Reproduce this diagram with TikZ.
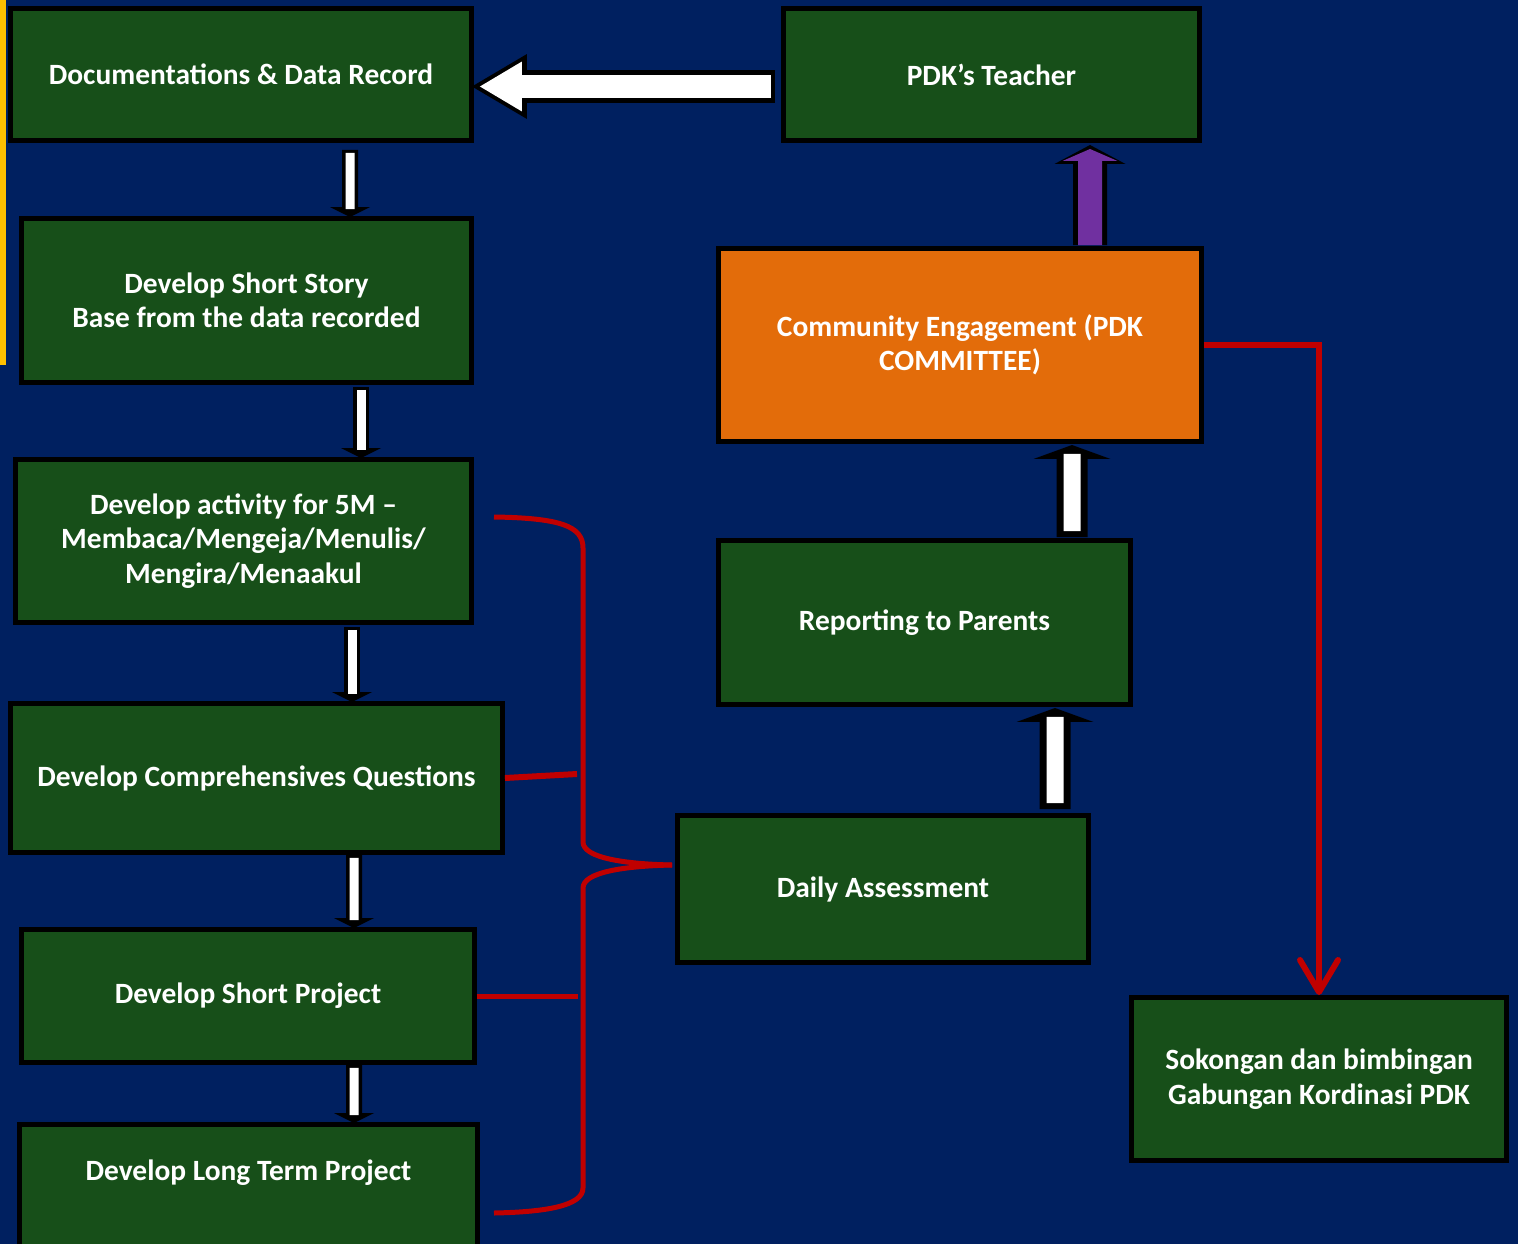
\documentclass[tikz,border=0pt]{standalone}
\usepackage{fontspec}
\setmainfont{Carlito}
\usetikzlibrary{arrows.meta, calc, positioning}

\definecolor{navy}{RGB}{0,32,96}
\definecolor{boxgreen}{RGB}{23,79,25}
\definecolor{engorange}{RGB}{227,108,10}
\definecolor{arrowpurple}{RGB}{112,48,160}
\definecolor{linkred}{RGB}{192,0,0}
\definecolor{bargold}{RGB}{255,192,0}

\tikzstyle{block} = [rectangle, draw=black, line width=1mm, fill=boxgreen, text=white, align=center, font=\bfseries\fontsize{16.75}{19.6}\selectfont]
\tikzstyle{downarrow} = [line width=0.32cm, draw=black, -{Triangle[length=0.2cm, width=0.8cm, line width=0pt]}, postaction={draw=white, line width=0.18cm, -, shorten <=0.06cm, shorten >=0.16cm}]
\tikzstyle{uparrow} = [line width=0.62cm, draw=black, -{Triangle[length=0.28cm, width=1.54cm, line width=0pt]}, postaction={draw=white, line width=0.34cm, -, shorten <=0.12cm, shorten >=0.18cm}]
\tikzstyle{purplearrow} = [line width=0.68cm, draw=black, -{Triangle[length=0.38cm, width=1.42cm, line width=0pt]}, postaction={draw=arrowpurple, line width=0.48cm, -{Triangle[length=0.24cm, width=1.1cm, line width=0pt]}, shorten >=0.08cm}]
\tikzstyle{bigarrow} = [line width=0.66cm, draw=black, -{Triangle[length=1.1cm, width=1.3cm, line width=0pt]}, postaction={draw=white, line width=0.48cm, -{Triangle[length=0.84cm, width=1.0cm, line width=0pt]}, shorten >=0.16cm, shorten <=0.08cm}]
\tikzstyle{brace} = [draw=linkred, line width=0.1cm]
\tikzstyle{redarrow} = [draw=linkred, line width=0.12cm, -{Straight Barb[length=0.64cm, width=0.76cm, round]}]

\begin{document}
\begin{tikzpicture}[x=0.02cm, y=-0.02cm]
\useasboundingbox (0,0) rectangle (1518,1244);
\fill[navy] (0,0) rectangle (1518,1244);
\fill[bargold] (0,0) rectangle (6,365);

\node (docs) [block, minimum width=9.22cm, minimum height=2.64cm] at (241,74.5) {Documentations \& Data Record};
\node (story) [block, minimum width=9.0cm, minimum height=3.28cm] at (246.5,300.5) {Develop Short Story\\Base from the data recorded};
\node (act) [block, minimum width=9.12cm, minimum height=3.26cm] at (243.5,541) {Develop activity for 5M –\\Membaca/Mengeja/Menulis/\\Mengira/Menaakul};
\node (comp) [block, minimum width=9.84cm, minimum height=2.98cm] at (256.5,778) {Develop Comprehensives Questions};
\node (sproj) [block, minimum width=9.06cm, minimum height=2.66cm] at (248,996) {Develop Short Project};
\node (lproj) [block, minimum width=9.16cm, minimum height=0pt, inner ysep=0pt, text height=1.12cm, text depth=2cm, anchor=north] at (248.5,1122) {Develop Long Term Project};

\node (pdk) [block, minimum width=8.32cm, minimum height=2.64cm] at (991.5,74.5) {PDK’s Teacher};
\node (comm) [block, fill=engorange, minimum width=9.66cm, minimum height=3.86cm] at (960,345) {Community Engagement (PDK\\COMMITTEE)};
\node (rep) [block, minimum width=8.24cm, minimum height=3.28cm] at (924.5,622.5) {Reporting to Parents};
\node (daily) [block, minimum width=8.22cm, minimum height=2.94cm] at (883,889) {Daily Assessment};
\node (sok) [block, minimum width=7.5cm, minimum height=3.26cm] at (1319,1079) {Sokongan dan bimbingan\\Gabungan Kordinasi PDK};

\draw [bigarrow] ($(pdk.west)+(-6,12)$) -- ($(docs.east)+(-2,12)$);
\draw [downarrow] ($(docs.south)+(109,7)$) -- ($(story.north)+(103.5,1)$);
\draw [downarrow] ($(story.south)+(114.5,2)$) -- ($(act.north)+(117.5,1)$);
\draw [downarrow] ($(act.south)+(108.5,2)$) -- ($(comp.north)+(95.5,1)$);
\draw [downarrow] ($(comp.south)+(97.5,0)$) -- ($(sproj.north)+(106,1)$);
\draw [downarrow] ($(sproj.south)+(106,0)$) -- ($(lproj.north)+(105.5,1)$);

\draw [uparrow] ($(daily.north)+(172,-4)$) -- ($(rep.south)+(130.5,1)$);
\draw [uparrow] ($(rep.north)+(147.5,-1)$) -- ($(comm.south)+(112,1)$);
\draw [purplearrow] ($(comm.north)+(130,-1)$) -- ($(pdk.south)+(98.5,2)$);

\draw [redarrow] (comm.east) -| (sok.north);

\coordinate (braceTop) at (494,517);
\coordinate (braceBot) at (494,1213);
\coordinate (compEnd) at (577,774);
\coordinate (sprojEnd) at (578,996);
\draw [brace] (braceTop) .. controls (560,518) and (583,526) .. (583,548) -- (583,842) .. controls (583,858) and (625,864) .. ($(daily.west)+(-3,-24)$);
\draw [brace] ($(daily.west)+(-3,-24)$) .. controls (625,866) and (583,872) .. (583,888) -- (583,1188) .. controls (583,1206) and (545,1212) .. (braceBot);
\draw [brace, line width=0.12cm] (comp.east) -- (compEnd);
\draw [brace] (sproj.east) -- (sprojEnd);
\end{tikzpicture}
\end{document}
